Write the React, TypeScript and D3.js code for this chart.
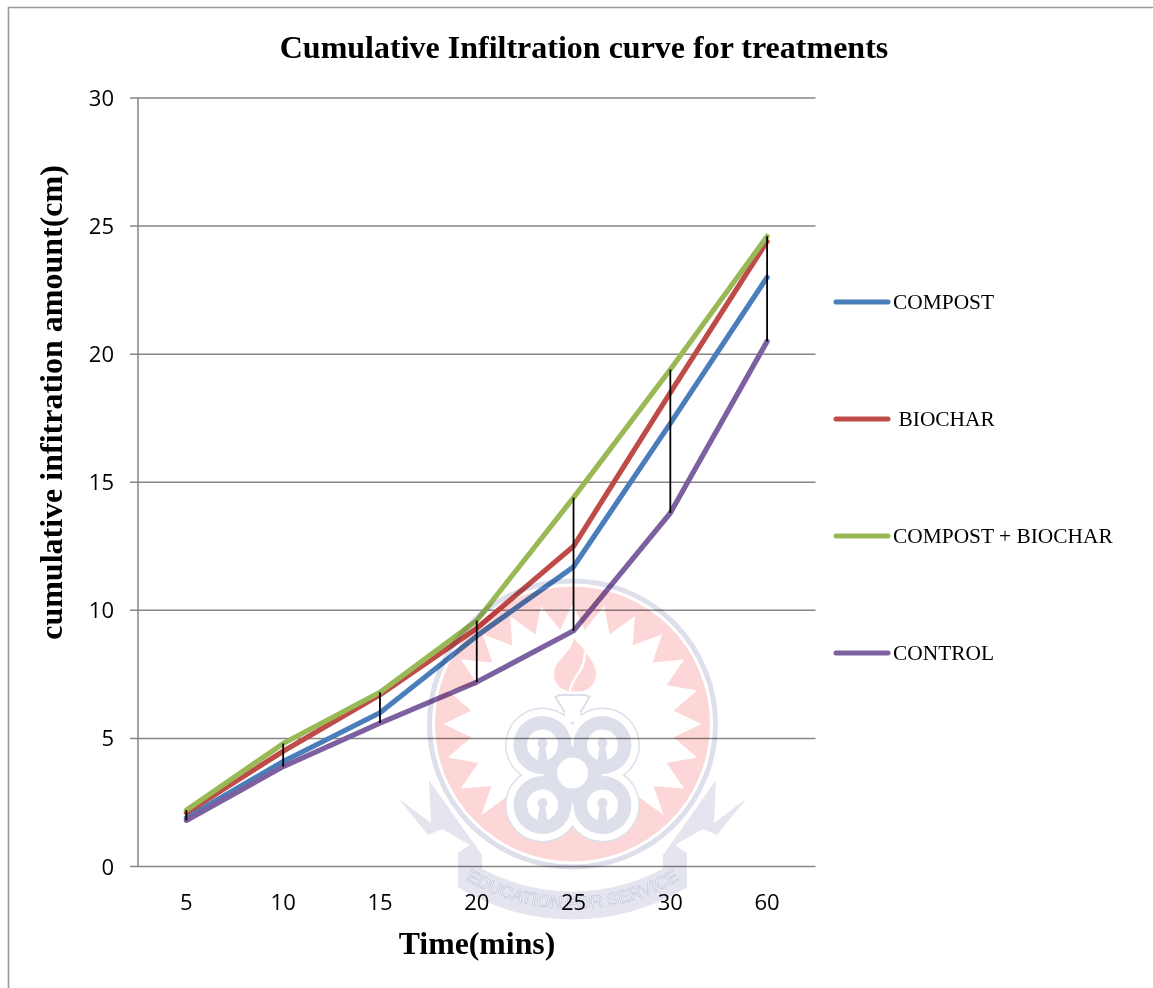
import React from "react";
import * as d3 from "d3";

const categories = ["5", "10", "15", "20", "25", "30", "60"];
const yTicks = [0, 5, 10, 15, 20, 25, 30];
const compost = [1.9, 4.1, 6.0, 9.0, 11.7, 17.3, 23.0];
const biochar = [2.1, 4.5, 6.7, 9.3, 12.5, 18.5, 24.4];
const compostBiochar = [2.2, 4.8, 6.8, 9.6, 14.4, 19.4, 24.6];
const control = [1.8, 3.9, 5.6, 7.2, 9.2, 13.8, 20.5];
const seriesNames = ["COMPOST", " BIOCHAR", "COMPOST + BIOCHAR", "CONTROL"];
const seriesValues = [compost, biochar, compostBiochar, control];
const seriesColors = ["#4a7ebb", "#be4b48", "#98b954", "#7d60a0"];
const title = "Cumulative Infiltration curve for treatments";
const xTitle = "Time(mins)";
const yTitle = "cumulative infitration amount(cm)";
const mottoText = "EDUCATION FOR SERVICE";

const W = 1153;
const H = 988;
const SERIF = "'Liberation Serif', serif";
const SANS = "'Open Sans', sans-serif";
const GRID = "#868686";
const LAV = "#dddfeb";
const LAV2 = "#e4e5ef";
const PINK = "#fdd7d7";

const x = d3.scaleBand<string>().domain(categories).range([138, 815.5]);
const cx = (c: string) => (x(c) as number) + x.bandwidth() / 2;
const y = d3.scaleLinear().domain([0, 30]).range([866.5, 98]);
const line = d3
  .line<number>()
  .x((_, i) => cx(categories[i]))
  .y((d) => y(d));

function Watermark() {
  const mx = 572.5;
  const my = 724;
  const n = 24;
  const pts: [number, number][] = [];
  for (let i = 0; i < n * 2; i++) {
    const a = (i / (n * 2)) * 2 * Math.PI - Math.PI;
    const deg = Math.abs((a * 180) / Math.PI);
    if (deg > 135) {
      pts.push([a, 70]);
    } else {
      const t = Math.min(deg / 60, 1);
      pts.push([a, i % 2 === 0 ? 120 + 9 * t : 94 + 8 * t]);
    }
  }
  const star = d3
    .lineRadial<[number, number]>()
    .angle((d) => d[0])
    .radius((d) => d[1])
    .curve(d3.curveLinearClosed)(pts) as string;

  const ribC = { x: 572.5, y: 700 };
  const ribbon = d3.arc()({
    innerRadius: 191,
    outerRadius: 220,
    startAngle: Math.PI - 0.55,
    endAngle: Math.PI + 0.55,
  }) as string;
  const rt = 209;
  const a0 = 0.72;
  const p0 = [ribC.x - rt * Math.sin(a0), ribC.y + rt * Math.cos(a0)];
  const p1 = [ribC.x + rt * Math.sin(a0), ribC.y + rt * Math.cos(a0)];
  const motto = `M${p0[0]},${p0[1]}A${rt},${rt} 0 0 0 ${p1[0]},${p1[1]}`;

  const tail: [number, number][] = [
    [398, 798], [431, 823], [429, 780], [482, 855], [482, 872], [458, 888], [458, 853], [470, 845], [442, 829], [428, 835],
  ];
  const tailPath = (d3.line()(tail) as string) + "Z";

  const lobes: [number, number][] = [[-30, 745], [30, 745], [-30, 805], [30, 805]];
  const waist = `M${mx - 30},745L${mx + 30},745L${mx + 30},805L${mx - 30},805Z`;
  const stopper = `M${mx - 17},697L${mx - 13},695L${mx + 13},695L${mx + 17},697L${mx + 8},712L${mx + 8},722L${mx - 8},722L${mx - 8},712Z`;
  const flame = `M571.5,691.5C560,691 553,683 554.3,671.7C555,660 570,655 574,638C578,645 583,646 585,651.7C592,660 597,668 595.7,676.7C594,687 585,692 578,691.5Z`;
  const flameLine = "M570,691C571,678 585,672 585,652";
  return (
    <g style={{ mixBlendMode: "multiply" }}>
      <circle cx={mx} cy={my} r={143} fill="none" stroke={LAV} strokeWidth={5} />
      <circle cx={mx} cy={my} r={137.5} fill={PINK} />
      <path d={star} transform={`translate(${mx},${my})`} fill="#fff" />
      <path d={flame} fill={PINK} />
      <path d={flameLine} fill="none" stroke="#fff" strokeWidth={2.5} />
      {/* emblem */}
      <path d={stopper} fill="#fff" stroke={LAV} strokeWidth={2} />
      {lobes.map(([dx, cy], i) => (
        <circle key={"o" + i} cx={mx + dx} cy={cy} r={37.5} fill={LAV} />
      ))}
      {lobes.map(([dx, cy], i) => (
        <circle key={"w" + i} cx={mx + dx} cy={cy} r={36} fill="#fff" />
      ))}
      <path d={`M${mx - 8},712L${mx + 8},712L${mx + 8},722L${mx - 8},722Z`} fill="#fff" />
      <path d={waist} fill="#fff" />
      {lobes.map(([dx, cy], i) => (
        <circle key={"f" + i} cx={mx + dx} cy={cy} r={29} fill={LAV} />
      ))}
      <path d={`M${mx - 14},775L${mx},745L${mx + 14},775L${mx},805Z`} fill={LAV} />
      <path d={`M${mx - 30},775L${mx},760L${mx + 30},775L${mx},790Z`} fill={LAV} />
      {lobes.map(([dx, cy], i) => (
        <g key={"c" + i}>
          <circle cx={mx + dx} cy={cy} r={15.5} fill="#fff" />
          <circle cx={mx + dx} cy={cy - 2} r={5} fill={LAV} />
          <path d={`M${mx + dx - 2.5},${cy - 1}L${mx + dx + 2.5},${cy - 1}L${mx + dx + 5},${cy + 16}L${mx + dx - 5},${cy + 16}Z`} fill={LAV} />
        </g>
      ))}
      <circle cx={mx} cy={773} r={15.5} fill="#fff" />
      {/* ribbon */}
      <path d={ribbon} transform={`translate(${ribC.x},${ribC.y})`} fill={LAV2} stroke="#fff" strokeWidth={1} />
      <path d={tailPath} fill={LAV2} />
      <path d={tailPath} fill={LAV2} transform={`translate(${2 * mx},0) scale(-1,1)`} />
      <defs>
        <path id="motto" d={motto} />
      </defs>
      <text fontFamily="'Liberation Sans', sans-serif" fontSize={17.5} fill="#f5f5fa" stroke="#bfc2d8" strokeWidth={0.6}>
        <textPath href="#motto" startOffset="50%" textAnchor="middle">
          {mottoText}
        </textPath>
      </text>
    </g>
  );
}

export default function App() {
  return (
    <svg
      width={W}
      height={H}
      viewBox={`0 0 ${W} ${H}`}
      style={{ position: "fixed", left: 0, top: 0, display: "block", background: "#fff" }}
    >
      <path d={`M8.5,${H}V7.5H${W}`} fill="none" stroke="#9a9a9a" strokeWidth={1.6} />
      <text x={584} y={58} textAnchor="middle" fontFamily={SERIF} fontWeight="bold" fontSize={32} fill="#000">
        {title}
      </text>
      {yTicks.map((t) => (
        <g key={t}>
          <line x1={130} x2={815.5} y1={y(t)} y2={y(t)} stroke={GRID} strokeWidth={1.5} />
          <text x={114} y={y(t) + 8} textAnchor="end" fontFamily={SANS} fontSize={22} fill="#000">
            {t}
          </text>
        </g>
      ))}
      <line x1={138} x2={138} y1={y(30)} y2={y(0)} stroke={GRID} strokeWidth={1.5} />
      {categories.map((c) => (
        <text key={c} x={cx(c)} y={910} textAnchor="middle" fontFamily={SANS} fontSize={22} fill="#000">
          {c}
        </text>
      ))}
      {seriesValues.map((vals, i) => (
        <path
          key={seriesNames[i]}
          d={line(vals) as string}
          fill="none"
          stroke={seriesColors[i]}
          strokeWidth={5.2}
          strokeLinecap="round"
          strokeLinejoin="round"
        />
      ))}
      {categories.map((c, i) => {
        const vs = seriesValues.map((s) => s[i]);
        return (
          <line
            key={c}
            x1={cx(c)}
            x2={cx(c)}
            y1={y(d3.max(vs) as number)}
            y2={y(d3.min(vs) as number)}
            stroke="#000"
            strokeWidth={1.8}
          />
        );
      })}
      <Watermark />
      <text x={477} y={954} textAnchor="middle" fontFamily={SERIF} fontWeight="bold" fontSize={31.8} fill="#000">
        {xTitle}
      </text>
      <text
        transform={`translate(62,402.5) rotate(-90)`}
        textAnchor="middle"
        fontFamily={SERIF}
        fontWeight="bold"
        fontSize={32}
        fill="#000"
      >
        {yTitle}
      </text>
      {seriesNames.map((n, i) => {
        const ly = 302 + i * 117;
        return (
          <g key={n}>
            <line x1={836} x2={888} y1={ly} y2={ly} stroke={seriesColors[i]} strokeWidth={5} strokeLinecap="round" />
            <text x={n.startsWith(" ") ? 898.5 : 893} y={ly + 7} fontFamily={SERIF} fontSize={21.4} fill="#000">
              {n.trim()}
            </text>
          </g>
        );
      })}
    </svg>
  );
}
